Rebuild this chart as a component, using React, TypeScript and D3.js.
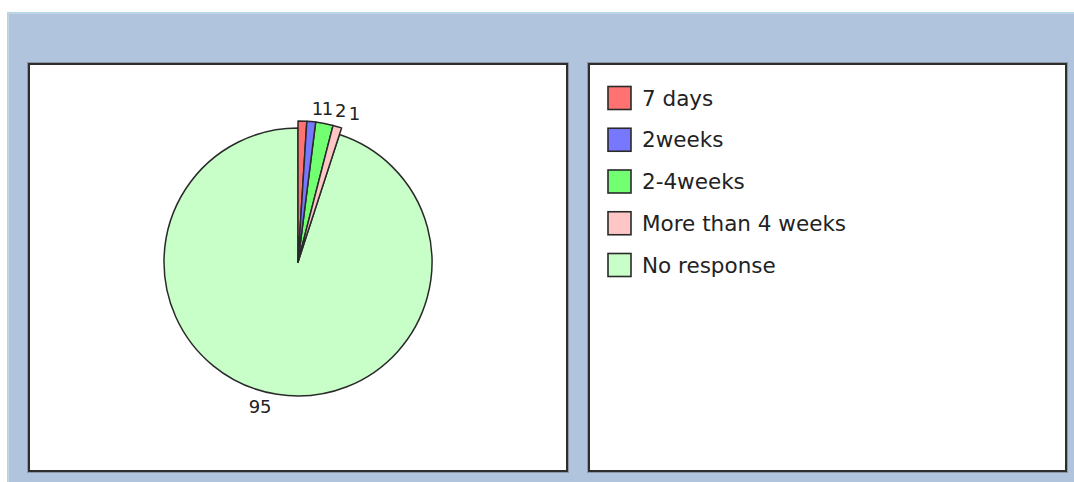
import React from "react";
import * as d3 from "d3";

const categories = ["7 days", "2weeks", "2-4weeks", "More than 4 weeks", "No response"];
const values = [1, 1, 2, 1, 95];
const colors = ["#ff7272", "#7878ff", "#72ff72", "#ffc6c6", "#c8ffc8"];

const W = 1074;
const H = 482;

const App: React.FC = () => {
  const cx = 298;
  const cy = 262;
  const r = 134;

  const pie = d3
    .pie<number>()
    .sort(null)
    .value((d) => d)
    .startAngle(0)
    .endAngle(2 * Math.PI);
  const arcs = pie(values);

  // the small slices stick out a little past the main circle
  const arcFor = (i: number) =>
    d3
      .arc<d3.PieArcDatum<number>>()
      .innerRadius(0)
      .outerRadius(values[i] < 10 ? r + 7 : r);

  // labels: placed along mid angle, pushed right so they don't overlap
  const labelR = 150;
  const fontSize = 18;
  let lastRight = -Infinity;
  const labels = arcs.map((a, i) => {
    const mid = (a.startAngle + a.endAngle) / 2;
    const sx = Math.sin(mid);
    let x = cx + labelR * sx;
    const y = cy - labelR * Math.cos(mid) - 4;
    const txt = String(values[i]);
    const w = txt.length * fontSize * 0.5;
    const right = sx >= 0;
    if (right) {
      x += 9;
      if (x < lastRight + 1) x = lastRight + 1;
      lastRight = x + w;
    } else {
      x -= 3;
    }
    return { x, y, txt, anchor: right ? "start" : "end" };
  });

  const legendY = d3
    .scalePoint<string>()
    .domain(categories)
    .range([98, 265]);

  return (
    <div style={{ position: "absolute", left: 0, top: 0 }}>
      <svg width={W} height={H} style={{ display: "block" }}>
        <rect x={0} y={0} width={W} height={H} fill="#ffffff" />
        <rect x={7} y={12} width={W - 7} height={H - 12} fill="#b0c4de" />
        <line x1={7} x2={W} y1={12.5} y2={12.5} stroke="#acd8e4" />
        <line x1={7.5} x2={7.5} y1={12} y2={H} stroke="#acd8e4" />
        <line x1={8} x2={W} y1={13.5} y2={13.5} stroke="#c6d4e6" />
        <line x1={8.5} x2={8.5} y1={13} y2={H} stroke="#c6d4e6" />

        {/* panels */}
        <rect x={27.5} y={62.5} width={541} height={410} fill="none" stroke="#8c96a6" />
        <rect x={29} y={64} width={538} height={407} fill="#ffffff" stroke="#2e2e2e" strokeWidth={2} />
        <rect x={587.5} y={62.5} width={480} height={410} fill="none" stroke="#8c96a6" />
        <rect x={589} y={64} width={477} height={407} fill="#ffffff" stroke="#2e2e2e" strokeWidth={2} />

        {/* pie */}
        <g transform={`translate(${cx},${cy})`}>
          {arcs
            .map((a, i) => ({ a, i }))
            .sort((p, q) => values[q.i] - values[p.i])
            .map(({ a, i }) => (
              <path
                key={categories[i]}
                d={arcFor(i)(a) || ""}
                fill={colors[i]}
                stroke="#2a2a2a"
                strokeWidth={1.5}
                strokeLinejoin="round"
              />
            ))}
        </g>
        <g fontFamily="'DejaVu Sans', sans-serif" fontSize={fontSize} fill="#222">
          {labels.map((l, i) => (
            <text key={i} x={l.x} y={l.y} textAnchor={l.anchor} dominantBaseline="central">
              {l.txt}
            </text>
          ))}
        </g>

        {/* legend */}
        <g fontFamily="'DejaVu Sans', sans-serif" fontSize={21.5} fill="#222">
          {categories.map((c, i) => {
            const y = legendY(c) || 0;
            return (
              <g key={c}>
                <rect
                  x={608}
                  y={y - 11.5}
                  width={23}
                  height={23}
                  fill={colors[i]}
                  stroke="#2a2a2a"
                  strokeWidth={1.6}
                />
                <text x={642} y={y} dominantBaseline="central">
                  {c}
                </text>
              </g>
            );
          })}
        </g>
      </svg>
    </div>
  );
};

export default App;
